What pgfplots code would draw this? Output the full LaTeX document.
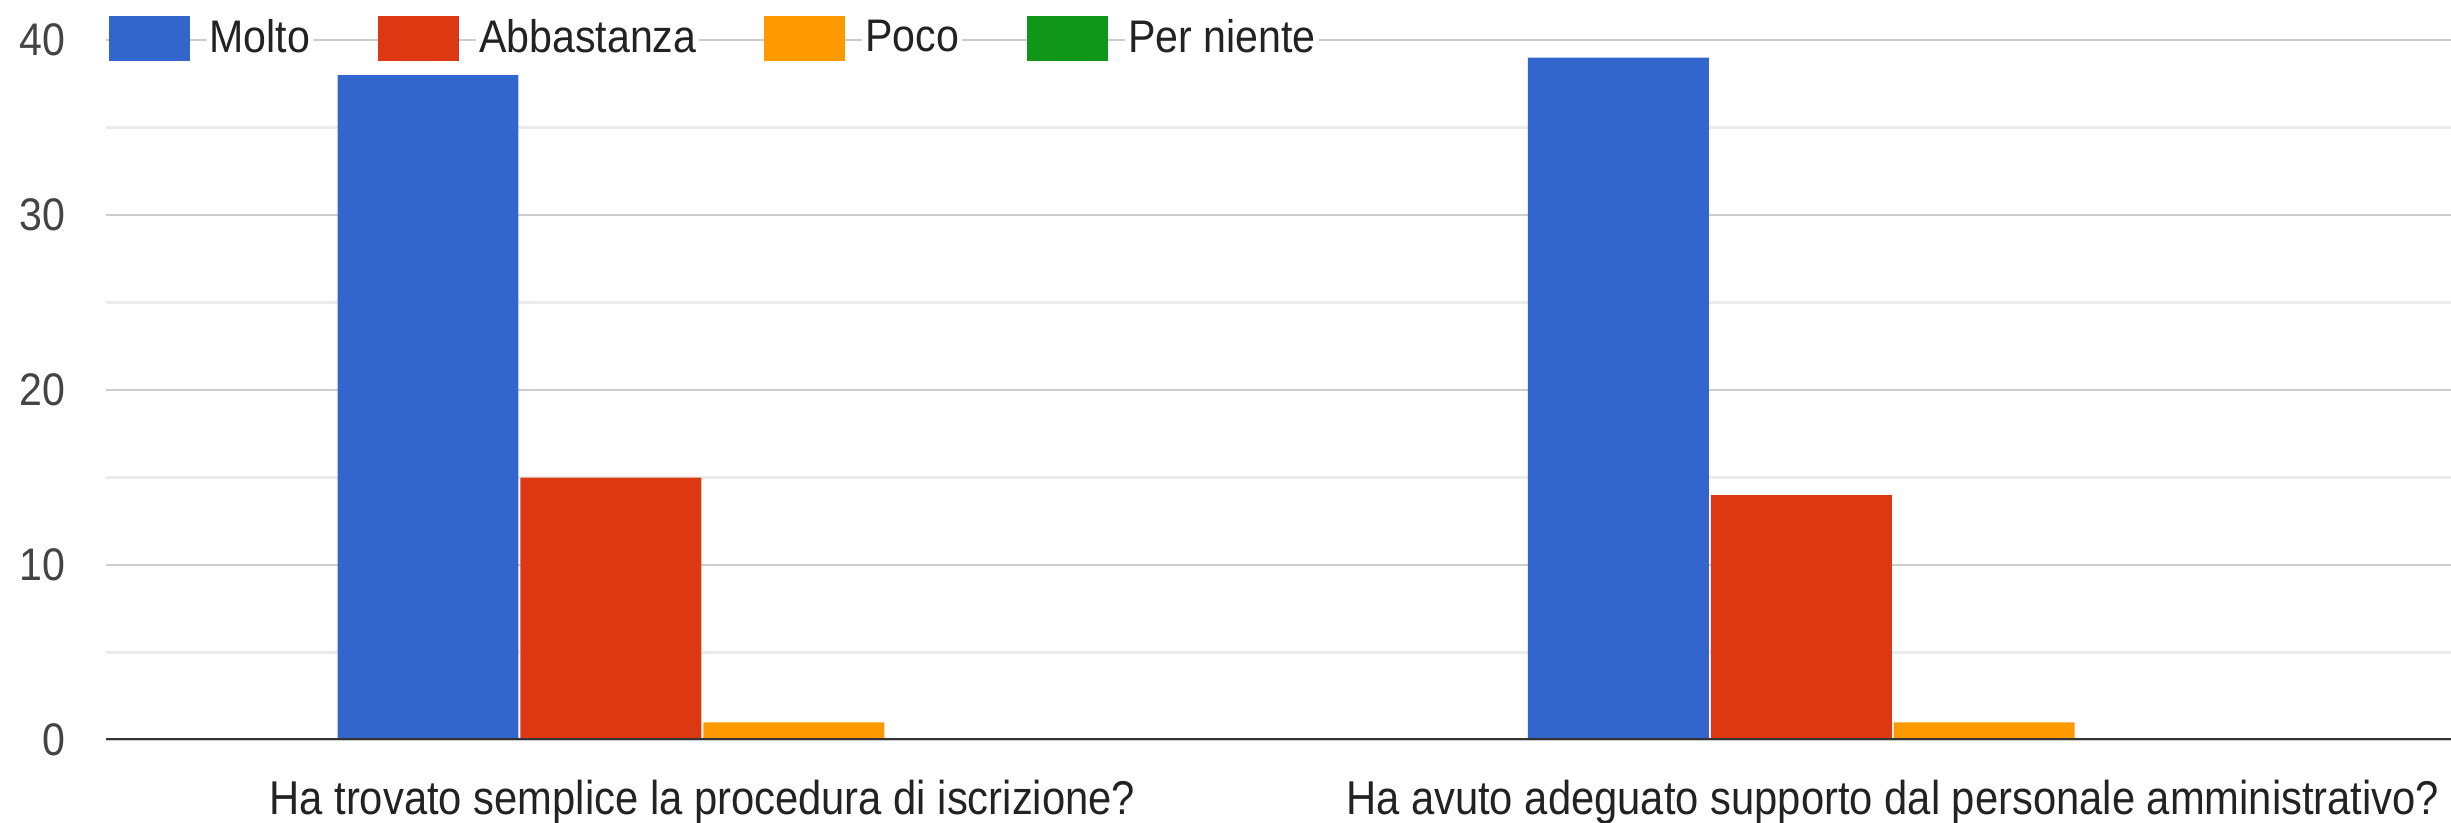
\documentclass[border=0pt]{standalone}
\usepackage{fontspec}
\setmainfont{Liberation Sans}
\usepackage{pgfplots}
\pgfplotsset{compat=1.18}
\definecolor{cMolto}{HTML}{3366CC}
\definecolor{cAbb}{HTML}{DC3912}
\definecolor{cPoco}{HTML}{FF9900}
\definecolor{cPer}{HTML}{109618}
\definecolor{gridmaj}{HTML}{CCCCCC}
\definecolor{gridmin}{HTML}{EBEBEB}
\definecolor{c444}{HTML}{444444}
\definecolor{c222}{HTML}{222222}
\definecolor{c333}{HTML}{333333}
\newcommand{\sx}[1]{\scalebox{0.9}[1]{#1}}
\newcommand{\lx}[1]{\scalebox{0.88}[1]{#1}}
\pgfplotsset{mylegend/.style={legend image code/.code={\fill[##1] (0mm,-2.25mm) rectangle (8.1mm,2.25mm);}}}
\begin{document}
\begin{tikzpicture}
\begin{axis}[name=ax, scale only axis, width=234.5mm, height=70mm,
  xmin=-0.501, xmax=1.469, ymin=0, ymax=40,
  axis line style={draw=none}, tick style={draw=none},
  xtick={0,1},
  xticklabels={\lx{Ha trovato semplice la procedura di iscrizione?}, \lx{Ha avuto adeguato supporto dal personale amministrativo?}},
  ytick={0,10,20,30,40},
  yticklabels={\sx{0},\sx{10},\sx{20},\sx{30},\sx{40}},
  minor ytick={5,15,25,35},
  ymajorgrids, yminorgrids,
  major grid style={color=gridmaj, line width=0.75pt},
  minor grid style={color=gridmin, line width=0.75pt},
  yticklabel style={font=\fontsize{13}{15}\selectfont, text=c444, inner sep=0pt, anchor=east, xshift=-4mm},
  xticklabel style={font=\fontsize{13.5}{16}\selectfont, text=c222, inner sep=0pt, anchor=north, yshift=-2.4mm},
  ybar, bar width=0.152,
  legend columns=4,
  legend style={draw=none, fill=none, inner sep=0pt, at={(rel axis cs:0,1)}, anchor=west,
    xshift=0.2mm, yshift=0.15mm, font=\fontsize{13}{15}\selectfont, text=c222,
    nodes={fill=white, inner sep=0.3mm},
    /tikz/every odd column/.style={column sep=1.7mm},
    /tikz/every even column/.style={column sep=6.5mm}},
]
\addplot[fill=cMolto, draw=none, bar shift=-0.2305, mylegend] coordinates {(0,38) (1,39)};
\addlegendentry{\sx{Molto}}
\addplot[fill=cAbb, draw=none, bar shift=-0.0768, mylegend] coordinates {(0,15) (1,14)};
\addlegendentry{\sx{Abbastanza}}
\addplot[fill=cPoco, draw=none, bar shift=0.0768, mylegend] coordinates {(0,1) (1,1)};
\addlegendentry{\sx{Poco}}
\addplot[fill=cPer, draw=none, bar shift=0.2305, mylegend] coordinates {(0,0) (1,0)};
\addlegendentry{\sx{Per niente}}
\draw[c333, line width=1pt] (rel axis cs:0,0) -- (rel axis cs:1,0);
\end{axis}
\pgfresetboundingbox
\path ([shift={(-10.6mm,-8.3mm)}]ax.south west) rectangle ([shift={(0mm,4.0mm)}]ax.north east);
\end{tikzpicture}
\end{document}
